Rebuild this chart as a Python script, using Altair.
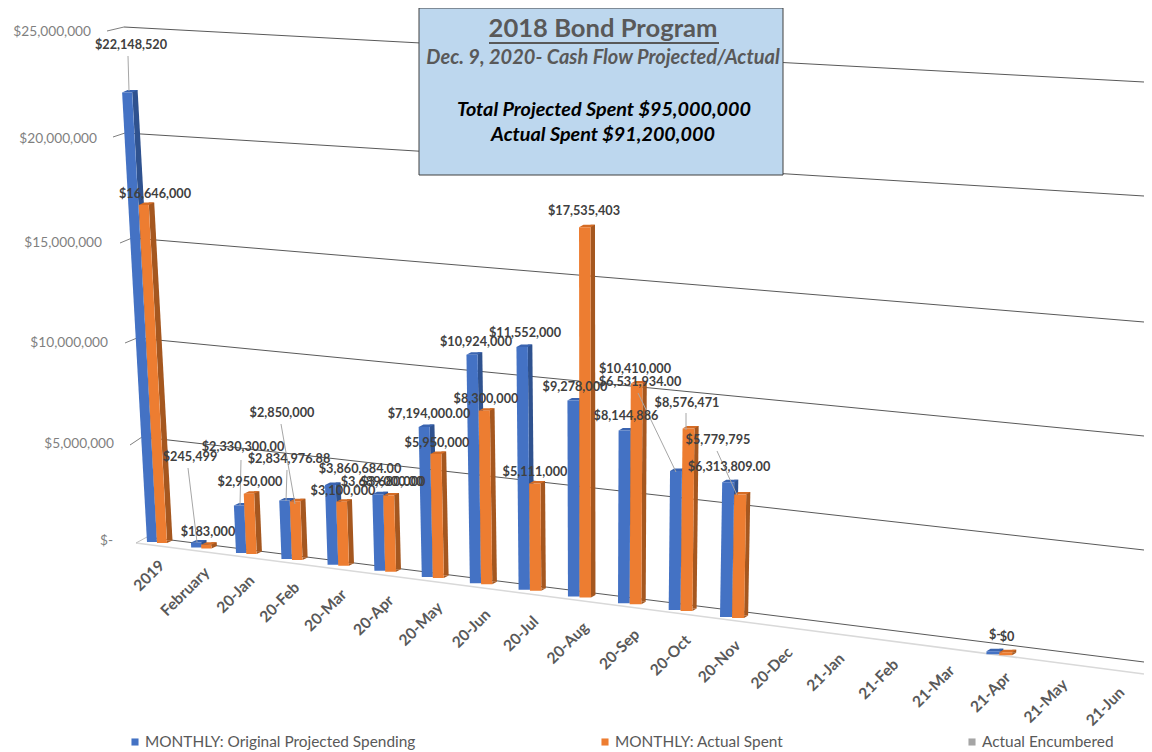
import altair as alt
import pandas as pd

# ---------- chart values ----------
categories = ["2019", "February", "20-Jan", "20-Feb", "20-Mar", "20-Apr", "20-May", "20-Jun", "20-Jul", "20-Aug",
              "20-Sep", "20-Oct", "20-Nov", "20-Dec", "21-Jan", "21-Feb", "21-Mar", "21-Apr", "21-May", "21-Jun"]
projected = [22148520, 245499, 2330300, 2834976.88, 3860684, 3689000, 7194000, 10924000, 11552000, 9278000,
             8144886, 6531934, 6313809, None, None, None, None, 0, None, None]
actual = [16646000, 183000, 2950000, 2850000, 3100000, 3680000, 5950000, 8300000, 5111000, 17535403,
          10410000, 8576471, 5779795, None, None, None, None, 0, None, None]
axis_values = [0, 5000000, 10000000, 15000000, 20000000, 25000000]
axis_labels = ["$-", "$5,000,000", "$10,000,000", "$15,000,000", "$20,000,000", "$25,000,000"]
legend_names = ["MONTHLY: Original Projected Spending", "MONTHLY: Actual Spent", "Actual Encumbered"]

# ---------- perspective layout of the 3-D scene (picture coordinates) ----------
RIGHT = 1144
grid_left_x = [147, 142, 137, 132, 125, 124]
grid_left_y = [537, 437, 338, 238, 133, 27]
grid_right_y = [662, 550, 436, 322, 196, 82]
stub_x = [136, 130, 125, 120, 113, 107]
stub_y = [543, 445, 343, 243, 137, 31]
axis_label_right = [113, 114, 108, 102, 97, 91]
axis_label_y = [541, 444, 343, 243, 139, 32]
tick_end_x = [162, 207, 252, 297, 344, 391, 440, 488, 536, 586, 637, 688, 738, 790, 842, 896, 952, 1008, 1065, 1122]
tick_end_y = [563, 570, 578, 585, 592, 598, 605, 612, 619, 625, 632, 638, 643, 650, 656, 662, 668, 675, 682, 690]


def base_x(i):
    return 147 + 43.85 * i + 0.325 * i * i


def base_y(i):
    return 542 + 5.42 * i + 0.07 * i * i


def bar_w(i):
    return 10 + 0.17 * i


def depth(i):
    return max(4, 5.5 - 0.12 * i)


def px_per_value(i):
    return (20.3 + 0.09 * i) / 1e6


RISE = 2.5
front, side, foot, cap = [], [], [], []
for s, series in enumerate([projected, actual]):
    for i, v in enumerate(series):
        if v is None:
            continue
        w, d = bar_w(i), depth(i)
        x0 = base_x(i) + s * w
        x1 = x0 + w
        yb = base_y(i) + s
        h = max(v * px_per_value(i), 3)
        lean = 0.000125 * (x0 - 590) * h
        top = yb - h
        key = f"{s}-{i}"
        front += [dict(s=s, bar=key, y=top, x=x0 + lean, x2=x1 + lean), dict(s=s, bar=key, y=yb, x=x0, x2=x1)]
        side += [dict(s=s, bar=key, y=top - RISE, x=x1 + lean, x2=x1 + d + lean),
                 dict(s=s, bar=key, y=yb - RISE, x=x1, x2=x1 + d)]
        foot += [dict(s=s, bar=key, x=x1, y=yb - RISE, y2=yb), dict(s=s, bar=key, x=x1 + d, y=yb - RISE, y2=yb - RISE)]
        X0, X1 = x0 + lean, x1 + lean
        cap += [dict(s=s, bar=key, x=X0, y=top, y2=top),
                dict(s=s, bar=key, x=X0 + d, y=top - RISE, y2=top),
                dict(s=s, bar=key, x=X1, y=top - RISE, y2=top),
                dict(s=s, bar=key, x=X1 + d, y=top - RISE, y2=top - RISE)]
front, side, foot, cap = map(pd.DataFrame, (front, side, foot, cap))

# data labels as Excel placed them by hand
label_text = ["$22,148,520", "$16,646,000", "$245,499", "$183,000", "$2,330,300.00", "$2,950,000", "$2,834,976.88",
              "$2,850,000", "$3,860,684.00", "$3,100,000", "$3,689,000.00", "$3,680,000", "$7,194,000.00", "$5,950,000",
              "$10,924,000", "$8,300,000", "$11,552,000", "$5,111,000", "$9,278,000", "$17,535,403", "$8,144,886",
              "$10,410,000", "$6,531,934.00", "$8,576,471", "$6,313,809.00", "$5,779,795", "$-", "$0"]
label_x = [131, 155, 190, 208, 243, 250, 289, 282, 360, 343, 382, 393, 429, 437,
           476, 486, 525, 535, 575, 584, 626, 635, 640, 687, 729, 718, 995, 1007]
label_y = [45, 194, 457, 532, 447, 482, 459, 413, 469, 491, 482, 482, 414, 443,
           342, 399, 333, 472, 387, 211, 416, 369, 382, 403, 467, 440, 635, 637]
lead_x = [128, 188, 241, 287, 281, 686, 717, 638]
lead_y = [56, 468, 460, 470, 424, 413, 451, 393]
lead_x2 = [129, 197, 240, 286, 295, 686, 737, 676]
lead_y2 = [91, 542, 505, 501, 504, 430, 495, 472]

legend_mark_x = [135, 605, 972]
legend_text_x = [145, 615, 982]
legend_y = [742, 742, 742]
legend_colors = ["#4472C4", "#ED7D31", "#A5A5A5"]

box = pd.DataFrame([dict(x=419, x2=783, y=8, y2=175)])
title_rows = pd.DataFrame([
    dict(t="2018 Bond Program", x=603, y=29, c="#595959", z=25.6, st="normal"),
    dict(t="Dec. 9, 2020- Cash Flow Projected/Actual", x=603, y=58, c="#595959", z=20, st="italic"),
    dict(t="Total Projected Spent $95,000,000", x=604, y=110, c="#000000", z=19.8, st="italic"),
    dict(t="Actual Spent $91,200,000", x=603, y=135, c="#000000", z=19.8, st="italic"),
])

# ---------- scales shared by every layer ----------
XS = alt.Scale(domain=[8, RIGHT], nice=False, zero=False)
YS = alt.Scale(domain=[752, 8], nice=False, zero=False)
X = lambda f="x": alt.X(f"{f}:Q", scale=XS, axis=None)
Y = lambda f="y": alt.Y(f"{f}:Q", scale=YS, axis=None)
FONT = "Lato"


def rules(df, color, width):
    return alt.Chart(df).mark_rule(color=color, strokeWidth=width).encode(
        x=X("x"), x2=alt.X2("x2"), y=Y("y"), y2=alt.Y2("y2"))


def text_layer(df, **kw):
    return alt.Chart(df).mark_text(font=FONT, **kw).encode(x=X("x"), y=Y("y"), text="t:N")


grid = pd.DataFrame(dict(value=axis_values, x=grid_left_x, y=grid_left_y, x2=[RIGHT] * 6, y2=grid_right_y))
stubs = pd.DataFrame(dict(x=stub_x, y=stub_y, x2=grid_left_x, y2=grid_left_y))
floor_front = pd.DataFrame([dict(x=stub_x[0], y=stub_y[0], x2=RIGHT, y2=674)])
leaders = pd.DataFrame(dict(x=lead_x, y=lead_y, x2=lead_x2, y2=lead_y2))

layers = [
    rules(floor_front, "#D9D9D9", 1.5),
    rules(grid, "#595959", 1),
    rules(stubs.iloc[1:], "#7F7F7F", 1),
    rules(stubs.iloc[:1], "#BFBFBF", 1),
]

palette = [("#4472C4", "#2F528F", "#3A64B0"), ("#ED7D31", "#A5571F", "#D56C25")]
for s, (cf, cs, cc) in enumerate(palette):
    layers += [
        alt.Chart(side[side.s == s]).mark_area(orient="horizontal", color=cs).encode(
            y=Y("y"), x=X("x"), x2=alt.X2("x2"), detail="bar:N"),
        alt.Chart(foot[foot.s == s]).mark_area(orient="vertical", color=cs).encode(
            x=X("x"), y=Y("y"), y2=alt.Y2("y2"), detail="bar:N"),
        alt.Chart(cap[cap.s == s]).mark_area(orient="vertical", color=cc).encode(
            x=X("x"), y=Y("y"), y2=alt.Y2("y2"), detail="bar:N"),
        alt.Chart(front[front.s == s]).mark_area(orient="horizontal", color=cf).encode(
            y=Y("y"), x=X("x"), x2=alt.X2("x2"), detail="bar:N"),
    ]

layers.append(rules(leaders, "#A6A6A6", 1))
layers.append(text_layer(pd.DataFrame(dict(t=label_text, x=label_x, y=label_y)),
                         fontSize=12.7, fontWeight="bold", color="#404040", align="center", baseline="middle"))
layers.append(text_layer(pd.DataFrame(dict(t=axis_labels, x=axis_label_right, y=axis_label_y)),
                         fontSize=13.7, color="#7F7F7F", align="right", baseline="middle"))
layers.append(text_layer(pd.DataFrame(dict(t=categories, x=tick_end_x, y=tick_end_y)),
                         fontSize=15.5, fontWeight="bold", color="#595959", align="right", baseline="middle", angle=315))
# legend
layers.append(alt.Chart(pd.DataFrame(dict(x=legend_mark_x, y=legend_y, c=legend_colors))).mark_point(
    shape="square", filled=True, size=50, opacity=1).encode(x=X("x"), y=Y("y"), color=alt.Color("c:N", scale=None)))
layers.append(text_layer(pd.DataFrame(dict(t=legend_names, x=legend_text_x, y=legend_y)),
                         fontSize=15.4, color="#595959", align="left", baseline="middle"))
# title box
layers.append(alt.Chart(box).mark_rect(fill="#BDD7EE", stroke="#404040", strokeWidth=1).encode(
    x=X("x"), x2=alt.X2("x2"), y=Y("y"), y2=alt.Y2("y2")))
layers.append(rules(pd.DataFrame([dict(x=489, x2=719, y=43, y2=43)]), "#595959", 2))
for _, r in title_rows.iterrows():
    layers.append(text_layer(pd.DataFrame([dict(t=r.t, x=r.x, y=r.y)]), fontSize=r.z, fontWeight="bold",
                             fontStyle=r.st, color=r.c, align="center", baseline="middle"))

chart = alt.layer(*layers).properties(
    width=RIGHT - 8, height=744, padding=0, background="#FFFFFF",
    autosize=alt.AutoSizeParams(type="none"),
).configure_view(stroke=None)

chart.save("out.html", embed_options={"renderer": "svg", "actions": False})
